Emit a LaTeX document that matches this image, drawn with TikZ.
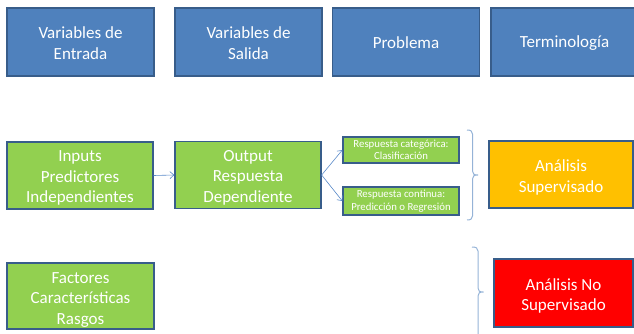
\documentclass[tikz,border=0pt]{standalone}
\usepackage{fontspec}
\setmainfont{Carlito}
\usetikzlibrary{arrows.meta}
\definecolor{hblue}{HTML}{4F81BD}
\definecolor{bdr}{HTML}{385D8A}
\definecolor{vgreen}{HTML}{92D050}
\definecolor{vorange}{HTML}{FFC000}
\definecolor{vred}{HTML}{FF0000}
\definecolor{lnk}{HTML}{5B8BC9}
\definecolor{brc}{HTML}{95B3D7}
\begin{document}
\begin{tikzpicture}[x=1pt,y=-1pt,
  box/.style={draw=bdr, line width=1.3pt, text=white, align=center, inner sep=0pt,
    font=\fontsize{17}{20.5}\selectfont},
  bigbox/.style={box, minimum width=147pt, minimum height=67pt},
  txt/.style={text=white, align=center, inner sep=0pt, font=\fontsize{17}{20.5}\selectfont},
  smallbox/.style={box, minimum width=116pt, minimum height=26pt,
    font=\fontsize{10.8}{12.5}\selectfont, fill=vgreen},
  link/.style={draw=lnk, line width=0.6pt, -{Straight Barb[length=4pt,width=7pt]}},
  bracel/.style={draw=brc, line width=1pt}]
\useasboundingbox (0,0) rectangle (634,334);
\begin{scope}
\clip (0,0) rectangle (634,334);
% top row
\node[bigbox, fill=hblue, minimum height=68pt] (ent) at (80.5,42) {};
\node[txt] (entt) at ([yshift=-1pt]ent.center) {Variables de\\Entrada};
\node[bigbox, fill=hblue, minimum height=68pt] (sal) at (248.5,42) {};
\node[txt] (salt) at ([yshift=-1pt]sal.center) {Variables de\\Salida};
\node[bigbox, fill=hblue, minimum height=68pt] (prob) at (406,42) {};
\node[txt] (probt) at ([yshift=-1pt]prob.center) {Problema};
\node[bigbox, fill=hblue, minimum height=68pt] (term) at (564.5,42) {};
\node[txt] (termt) at ([yshift=-1pt]term.center) {Terminología};
% second row
\node[bigbox, fill=vgreen, minimum width=146pt] (inp) at (80,175.5) {};
\node[txt] (inpt) at ([yshift=-2.5pt]inp.center) {Inputs\\Predictores\\Independientes};
\node[bigbox, fill=vgreen, minimum width=146pt] (out) at (248,175) {};
\node[txt] (outt) at ([yshift=-2.5pt]out.center) {Output\\Respuesta\\Dependiente};
\node[smallbox] (cat) at (401,150) {Respuesta categórica:\\Clasificación};
\node[smallbox, minimum height=28pt] (con) at (401,201) {Respuesta continua:\\Predicción o Regresión};
\node[bigbox, fill=vorange, minimum width=144pt, minimum height=67pt] (sup) at (561,174.5) {};
\node[txt] (supt) at ([yshift=-3pt]sup.center) {Análisis\\Supervisado};
% third row
\node[bigbox, fill=vgreen, minimum height=66pt] (fac) at (80.5,296) {};
\node[txt] (fact) at ([yshift=-4pt]fac.center) {Factores\\Características\\Rasgos};
\node[bigbox, fill=vred, minimum width=139pt, minimum height=68pt] (nosup) at (563.5,293) {};
\node[txt] (nosupt) at ([yshift=-3pt]nosup.center) {Análisis No\\Supervisado};
% connectors
\draw[link] (inp.east) -- (out.west);
\draw[link] (out.east) -- (cat.west);
\draw[link] (out.east) -- (con.west);
% braces
\coordinate (b1t) at (467,130);
\coordinate (b1m) at (478,175);
\coordinate (b1b) at (467,220);
\draw[bracel] (b1t) .. controls (470.5,130) and (472.5,131) .. (472.5,134) -- (472.5,171)
  .. controls (472.5,174) and (474,175) .. (b1m)
  .. controls (474,175) and (472.5,176) .. (472.5,179) -- (472.5,216)
  .. controls (472.5,219) and (470.5,220) .. (b1b);
\coordinate (b2t) at (472,247);
\coordinate (b2m) at (483.5,292);
\draw[bracel] (b2t) .. controls (476,247) and (478,248) .. (478,251) -- (478,288)
  .. controls (478,291) and (479.5,292) .. (b2m)
  .. controls (479.5,292) and (478,293) .. (478,296) -- (478,340);
\end{scope}
\end{tikzpicture}
\end{document}
